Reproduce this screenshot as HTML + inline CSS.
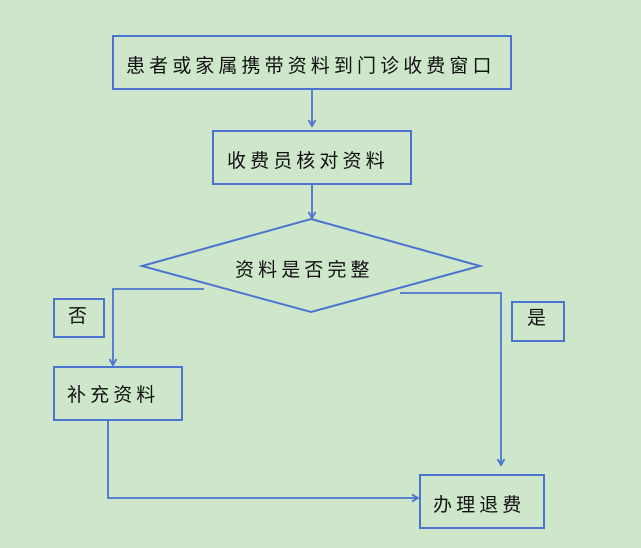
<!DOCTYPE html>
<html><head><meta charset="utf-8"><style>
html,body{margin:0;padding:0;}
body{width:641px;height:548px;background:#cee7ca;position:relative;overflow:hidden;}
svg{position:absolute;left:0;top:0;}
.t{position:absolute;font-family:"Liberation Sans","Noto Sans CJK SC",sans-serif;font-size:19px;line-height:19px;letter-spacing:4.1px;color:#111;white-space:nowrap;}
</style></head><body>
<svg width="641" height="548" viewBox="0 0 641 548">
<g fill="none" stroke="#4a74d0" stroke-width="2">
<rect x="113" y="36" width="398" height="53"/>
<rect x="213" y="131" width="198" height="53"/>
<polygon points="311,219 480,266 311,312 142,266"/>
<rect x="54" y="299" width="50" height="38"/>
<rect x="512" y="302" width="52" height="39"/>
<rect x="54" y="367" width="128" height="53"/>
<rect x="420" y="475" width="124" height="53"/>
</g>
<g fill="none" stroke="#4a74d0" stroke-width="1.8">
<line x1="312" y1="90" x2="312" y2="126"/>
<polyline points="308.5,120 312,126 315.5,120"/>
<line x1="312" y1="185" x2="312" y2="218"/>
<polyline points="308.5,212 312,218 315.5,212"/>
<polyline points="204,289 113,289 113,365"/>
<polyline points="109.5,359 113,365 116.5,359"/>
<polyline points="400,293 501,293 501,465"/>
<polyline points="497.5,459 501,465 504.5,459"/>
<polyline points="108,421 108,498 418,498"/>
<polyline points="412,494.5 418,498 412,501.5"/>
</g>
</svg>
<div class="t" style="left:126px;top:57px;">患者或家属携带资料到门诊收费窗口</div>
<div class="t" style="left:227px;top:152px;">收费员核对资料</div>
<div class="t" style="left:235px;top:261px;">资料是否完整</div>
<div class="t" style="left:68px;top:307px;">否</div>
<div class="t" style="left:527px;top:309px;">是</div>
<div class="t" style="left:67px;top:386px;">补充资料</div>
<div class="t" style="left:433px;top:496px;">办理退费</div>
</body></html>
